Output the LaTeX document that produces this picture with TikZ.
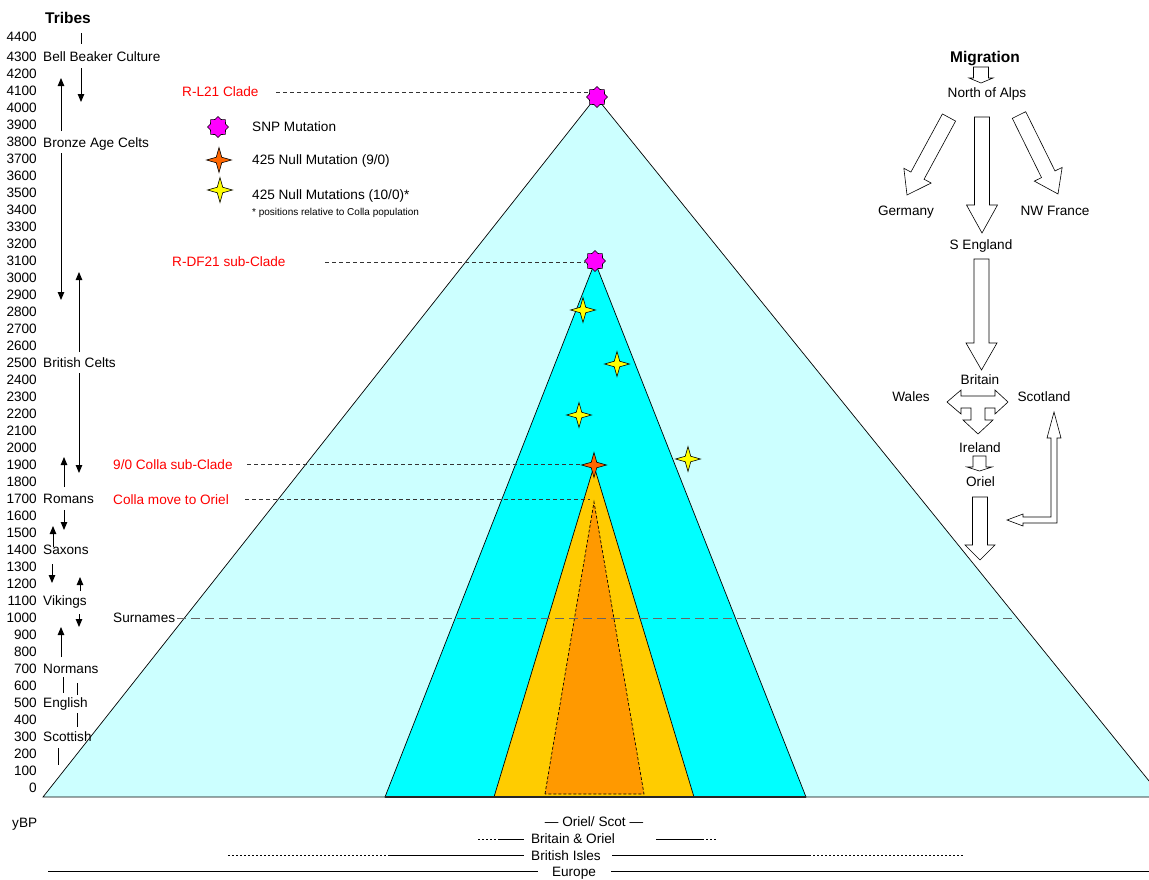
\documentclass[tikz,border=0pt]{standalone}
\usepackage{fontspec}
\setmainfont{Liberation Sans}
\usetikzlibrary{shapes.geometric,arrows.meta}
\definecolor{palecyan}{HTML}{CCFFFF}
\definecolor{aqua}{HTML}{00FFFF}
\definecolor{gold}{HTML}{FFCC00}
\definecolor{orng}{HTML}{FF9900}
\definecolor{snp}{HTML}{FF00FF}
\definecolor{nullr}{HTML}{FF6600}
\definecolor{nully}{HTML}{FFFF00}
\definecolor{redlab}{HTML}{FF0000}
\newcommand\blockarrow[7]{%
  \pgfmathsetmacro\baang{atan2(-(#4-#2),#3-#1)}%
  \pgfmathsetmacro\balen{veclen(#3-#1,#4-#2)}%
  \begin{scope}[shift={(#1,#2)},rotate=\baang]
    \draw[barrow] (0,-#5) -- ({\balen-#7},-#5) -- ({\balen-#7},-#6) -- (\balen,0)
      -- ({\balen-#7},#6) -- ({\balen-#7},#5) -- (0,#5) -- cycle;
  \end{scope}}
\begin{document}
\begin{tikzpicture}[x=1pt,y=-1pt,
  txt/.style={inner sep=0pt, font=\fontsize{13.6}{16}\selectfont, text height=8.2pt, text depth=0pt},
  head/.style={inner sep=0pt, font=\bfseries\fontsize{15.5}{18}\selectfont, text height=10pt, text depth=0pt},
  small/.style={inner sep=0pt, font=\fontsize{10}{12}\selectfont, text height=6.5pt, text depth=0pt},
  red/.style={text=redlab},
  tarr/.style={line width=0.9pt, -{Triangle[length=8pt,width=6.5pt]}},
  tline/.style={line width=0.9pt},
  barrow/.style={draw=black, line width=0.6pt, fill=white},
  edge/.style={draw=black, line width=0.7pt},
  guide/.style={line width=0.7pt, dash pattern=on 4pt off 3pt, black!80},
  snpstar/.style={star, star points=8, star point ratio=1.3, minimum size=21pt, inner sep=0pt, draw=black, line width=0.6pt, fill=snp},
  nullstar/.style={star, star points=4, star point ratio=3.2, minimum size=25pt, inner sep=0pt, draw=black, line width=0.6pt},
]
\useasboundingbox (0,0) rectangle (1149,879);
\begin{scope}
\clip (0,0) rectangle (1149,879);
% big triangle
\filldraw[fill=palecyan, edge] (43,797) -- (596,97) -- (1162,797) -- cycle;
\end{scope}
% cyan triangle
\filldraw[fill=aqua, edge] (385,797) -- (595,262) -- (806,797) -- cycle;
% gold triangle
\filldraw[fill=gold, edge] (494,797) -- (594,466) -- (694,797) -- cycle;
% orange triangle
\filldraw[fill=orng, draw=black, line width=0.7pt, dash pattern=on 3pt off 2pt] (545,794) -- (594,502) -- (644,794) -- cycle;
\draw[line width=1.8pt, black!85] (385,797) -- (806,797);

% guide lines
\draw[guide] (276,92) -- (588,92);
\draw[guide] (325,262) -- (585,262);
\draw[guide] (247,464) -- (582,464);
\draw[guide] (245,499) -- (590,499);
\draw[line width=0.9pt, black!60, dash pattern=on 9pt off 5pt] (177,618) -- (1012,618);

% stars
\node[snpstar] (s1) at (597,97) {};
\node[snpstar] (s2) at (595,261) {};
\node[nullstar, fill=nully] (y1) at (583,310) {};
\node[nullstar, fill=nully] (y2) at (617,364) {};
\node[nullstar, fill=nully] (y3) at (579,415) {};
\node[nullstar, fill=nully] (y4) at (688,459) {};
\node[nullstar, fill=nullr] (o1) at (594,465) {};

% legend
\node[snpstar] (l1) at (218,127) {};
\node[nullstar, fill=nullr] (l2) at (219,160) {};
\node[nullstar, fill=nully] (l3) at (220,190) {};
\node[txt, anchor=west] (lt1) at (252,127) {SNP Mutation};
\node[txt, anchor=west] (lt2) at (252,160) {425 Null Mutation (9/0)};
\node[txt, anchor=west] (lt3) at (252,195) {425 Null Mutations (10/0)*};
\node[small, anchor=west] (lt4) at (252,212) {* positions relative to Colla population};

% red labels
\node[txt, red, anchor=west] (rl21) at (182,92) {R-L21 Clade};
\node[txt, red, anchor=west] (rdf21) at (172,262) {R-DF21 sub-Clade};
\node[txt, red, anchor=west] (r90) at (113,465) {9/0 Colla sub-Clade};
\node[txt, red, anchor=west] (rmove) at (113,500) {Colla move to Oriel};
\node[txt, anchor=west] (sur) at (113,618) {Surnames};

% axis
\node[head] (tribes) at (68,18) {Tribes};
\node[txt, anchor=east] (ax44) at (37,37) {4400};
\foreach \k in {0,...,43}{
  \pgfmathtruncatemacro\lab{\k*100}
  \node[txt, anchor=east] (ax\k) at (37,{57+(43-\k)*17}) {\lab};
}
\node[txt, anchor=west] (t1) at (43,57) {Bell Beaker Culture};
\node[txt, anchor=west] (t2) at (43,143) {Bronze Age Celts};
\node[txt, anchor=west] (t3) at (43,363) {British Celts};
\node[txt, anchor=west] (t4) at (43,499) {Romans};
\node[txt, anchor=west] (t5) at (43,550) {Saxons};
\node[txt, anchor=west] (t6) at (43,601) {Vikings};
\node[txt, anchor=west] (t7) at (43,669) {Normans};
\node[txt, anchor=west] (t8) at (43,703) {English};
\node[txt, anchor=west] (t9) at (43,737) {Scottish};

% tribe arrows
\draw[tline] (81,33) -- (81,44);
\draw[tarr] (81,68) -- (81,102);
\draw[tarr] (61,131) -- (61,78);
\draw[tarr] (61,153) -- (61,300);
\draw[tarr] (79,352) -- (79,272);
\draw[tarr] (79,373) -- (79,473);
\draw[tarr] (64,487) -- (64,457);
\draw[tarr] (64,510) -- (64,530);
\draw[tarr] (53,547) -- (53,526);
\draw[tarr] (52,564) -- (52,583);
\draw[tarr] (80,591) -- (80,577);
\draw[tarr] (79,614) -- (79,627);
\draw[tarr] (61,657) -- (61,627);
\draw[tline] (63,677) -- (63,693);
\draw[tline] (77,683) -- (77,695);
\draw[tline] (77,713) -- (77,727);
\draw[tline] (58,748) -- (58,765);

% migration
\node[head] (mig) at (985,57) {Migration};
\node[txt] (alps) at (987,93) {North of Alps};
\node[txt] (ger) at (906,211) {Germany};
\node[txt] (nwf) at (1055,211) {NW France};
\node[txt] (seng) at (981,245) {S England};
\node[txt] (brit) at (980,380) {Britain};
\node[txt] (wales) at (911,397) {Wales};
\node[txt] (scot) at (1044,397) {Scotland};
\node[txt] (irl) at (980,448) {Ireland};
\node[txt] (oriel) at (980.5,482) {Oriel};

\blockarrow{981}{67}{981}{83}{7.5}{12}{5}
\blockarrow{982}{117}{982}{233}{7.5}{15.5}{28}
\blockarrow{949}{117.5}{907}{195}{7.5}{15.5}{22}
\blockarrow{1019}{115}{1058}{194}{7.5}{15.5}{22}
\blockarrow{981.5}{259}{981.5}{370}{7.5}{15.5}{27}
\blockarrow{979.5}{456}{979.5}{471}{6.5}{12.5}{4}
\blockarrow{980}{497}{980}{560}{7.5}{15}{15}
% Britain three-way arrow
\draw[barrow] (961,396) -- (995,396) -- (995,390) -- (1008,402) -- (995,414) -- (995,408)
  -- (985,408) -- (985,420) -- (993,420) -- (978,434) -- (963,420) -- (971,420)
  -- (971,408) -- (961,408) -- (961,414) -- (947,402) -- (961,390) -- cycle;
% Scotland return arrow
\draw[barrow] (1057,523) -- (1023,523) -- (1023,526) -- (1007,520) -- (1023,514) -- (1023,517)
  -- (1051,517) -- (1051,438) -- (1047,438) -- (1054,412) -- (1061,438) -- (1057,438) -- cycle;

% bottom scale
\node[txt, anchor=west] (ybp) at (12,823) {yBP};
\node[txt] (os) at (594,822) {— Oriel/ Scot —};
\node[txt] (bo) at (573,839) {Britain \& Oriel};
\node[txt] (bi) at (566,856) {British Isles};
\node[txt] (eu) at (574,872) {Europe};
\draw[line width=0.7pt, dash pattern=on 2pt off 2pt] (478,839) -- (498,839);
\draw[line width=0.7pt] (498,839) -- (524,839);
\draw[line width=0.7pt] (656,839) -- (702,839);
\draw[line width=0.7pt, dash pattern=on 2pt off 2pt] (702,839) -- (716,839);
\draw[line width=0.7pt, dash pattern=on 2pt off 2pt] (228,855) -- (390,855);
\draw[line width=0.7pt] (390,855) -- (524,855);
\draw[line width=0.7pt] (612,855) -- (809,855);
\draw[line width=0.7pt, dash pattern=on 2pt off 2pt] (809,855) -- (963,855);
\draw[line width=0.7pt] (48,871) -- (538,871);
\draw[line width=0.7pt] (611,871) -- (1149,871);
\end{tikzpicture}
\end{document}
